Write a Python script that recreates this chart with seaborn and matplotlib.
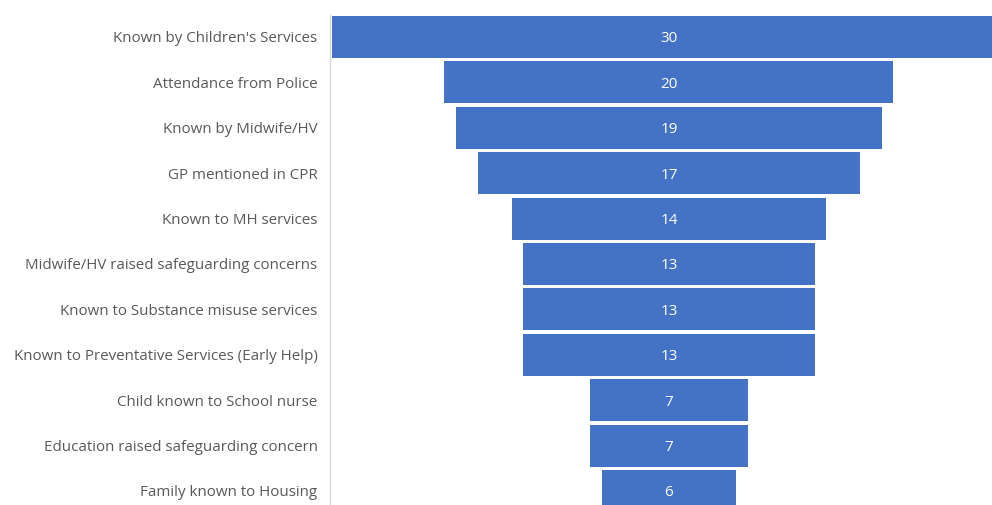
import matplotlib
matplotlib.use("Agg")
import matplotlib.pyplot as plt
import seaborn as sns
import pandas as pd

categories = [
    "Known by Children's Services",
    "Attendance from Police",
    "Known by Midwife/HV",
    "GP mentioned in CPR",
    "Known to MH services",
    "Midwife/HV raised safeguarding concerns",
    "Known to Substance misuse services",
    "Known to Preventative Services (Early Help)",
    "Child known to School nurse",
    "Education raised safeguarding concern",
    "Family known to Housing",
]
counts = [30, 20, 19, 17, 14, 13, 13, 13, 7, 7, 6]

df = pd.DataFrame({"category": categories, "count": counts})

sns.set_theme(style="white")
plt.rcParams["font.family"] = ["Open Sans", "DejaVu Sans"]

W, H = 992, 505
fig = plt.figure(figsize=(W / 100, H / 100), dpi=100)
fig.patch.set_facecolor("white")

left_px, top_px = 330, 15
ax = fig.add_axes([left_px / W, 0, (W - left_px) / W, (H - top_px) / H])

bar_color = "#4472C4"
sns.barplot(data=df, y="category", x="count", orient="h", color=bar_color,
            width=0.925, saturation=1, ax=ax, edgecolor="none")

# centre each bar on the widest value to form a funnel
peak = max(counts)
for patch, v in zip(ax.patches, counts):
    patch.set_x((peak - v) / 2)
    ax.text((peak - v) / 2 + v / 2, patch.get_y() + patch.get_height() / 2 + 0.04,
            f"{v}", ha="center", va="center", color="white", fontsize=11)

px_per_unit = 22.45
ax.set_xlim(-0.1, -0.1 + (W - left_px) / px_per_unit)
row_pitch = 45.4
ax.set_ylim((H - 37) / row_pitch, -(37 - top_px) / row_pitch)

ax.set_xlabel("")
ax.set_ylabel("")
ax.set_xticks([])
ax.tick_params(axis="y", length=0, pad=9, labelsize=10.9, labelcolor="#595959")
for side in ["top", "right", "bottom"]:
    ax.spines[side].set_visible(False)
ax.spines["left"].set_color("#D9D9D9")
ax.spines["left"].set_linewidth(1)

fig.savefig("out.png", dpi=100)
